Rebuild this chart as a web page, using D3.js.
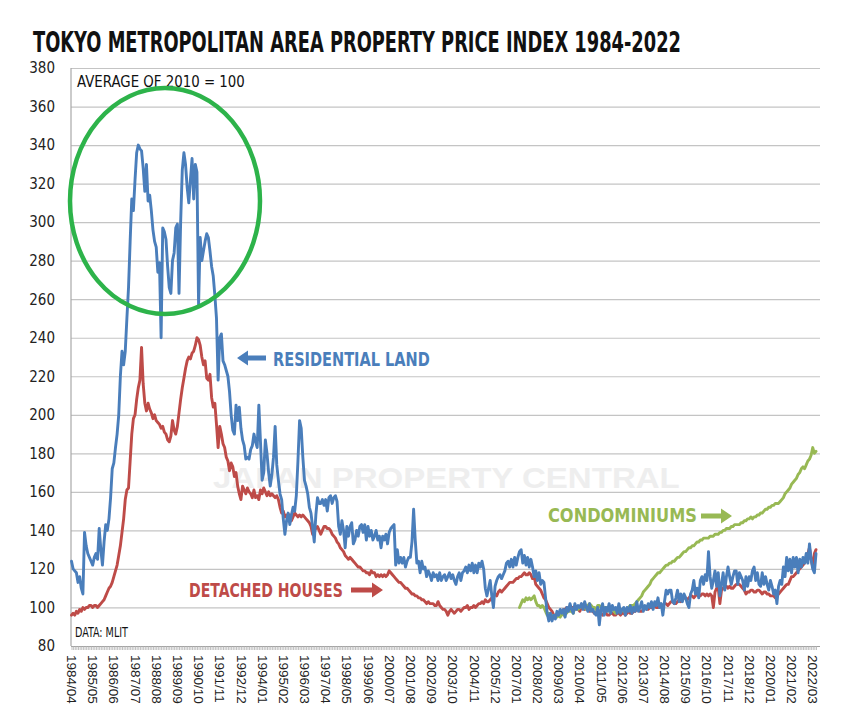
<!DOCTYPE html>
<html><head><meta charset="utf-8">
<script src="https://cdn.jsdelivr.net/npm/d3@7/dist/d3.min.js"></script>
<style>body{margin:0;background:#fff}svg{display:block}</style>
</head><body><svg id="chart" width="850" height="724"></svg>
<script>
// ---- data ----
const startYear = 1984, startMonth = 4; // first monthly observation: 1984/04
const tickLabels = ["1984/04","1985/05","1986/06","1987/07","1988/08","1989/09","1990/10","1991/11","1992/12","1994/01","1995/02","1996/03","1997/04","1998/05","1999/06","2000/07","2001/08","2002/09","2003/10","2004/11","2005/12","2007/01","2008/02","2009/03","2010/04","2011/05","2012/06","2013/07","2014/08","2015/09","2016/10","2017/11","2018/12","2020/01","2021/02","2022/03"];
const yTicks = [80,100,120,140,160,180,200,220,240,260,280,300,320,340,360,380];

// Residential land (monthly, Apr..Mar rows)
const residential = [
124,120,119,118,113,116,110,107,139,132,128,126,
124,122,126,128,125,141,130,122,134,143,140,146,
157,172,175,183,190,200,220,233,226,233,250,266,
290,312,306,322,336,340,338,337,328,316,330,311,
314,306,296,290,287,274,279,240,297,295,291,277,
266,263,280,284,297,299,263,300,327,336,330,318,
310,322,333,312,330,326,257,292,280,285,290,294,
292,285,277,272,262,250,218,240,242,228,226,223,
220,212,200,192,190,205,197,204,193,187,184,177,
178,177,182,184,190,186,183,205,186,166,170,187,
180,170,163,169,178,194,174,166,159,156,146,138,
145,149,143,148,152,150,158,176,197,193,178,166,
163,159,152,149,142,134,148,157,154,154,156,153,
156,150,157,158,154,157,158,155,142,138,145,140,
131,142,137,142,144,133,135,140,137,142,143,139,
143,135,142,137,140,135,137,140,135,137,131,137,
135,138,133,139,141,142,143,122,130,123,126,123,
126,121,124,126,126,134,151,135,123,124,118,124,
120,121,116,119,117,114,118,116,117,114,118,114,
116,117,114,116,118,115,117,114,112,116,118,114,
118,119,121,118,122,119,123,118,122,118,123,121,
124,120,110,106,110,114,106,100,111,114,116,117,
115,117,119,123,124,121,125,121,126,122,126,129,
130,123,127,122,126,121,125,121,116,119,114,118,
112,114,113,105,97,93,97,93,96,94,98,96,
99,97,99,95,100,98,102,99,97,102,99,101,
100,102,99,103,100,98,102,98,99,97,96,100,
91,99,102,96,100,98,102,97,101,99,100,97,
102,97,99,100,96,100,98,101,97,100,98,103,
98,100,103,98,101,99,102,100,103,99,103,101,
105,100,102,96,103,109,107,109,109,103,102,105,
109,103,107,103,107,105,102,100,107,109,114,107,
110,105,114,116,112,117,114,129,116,110,114,119,
111,118,106,112,118,109,116,121,116,112,116,119,
119,112,118,116,114,109,116,111,116,114,119,121,
114,118,112,111,118,112,116,112,109,114,111,107,
109,102,111,114,112,121,116,126,119,125,118,126,
121,126,118,125,121,126,123,128,123,133,125,120,
118,128];

// Detached houses (monthly)
const detached = [
96,97,96,98,97,99,98,100,99,100,100,101,
101,100,101,101,100,101,102,103,104,106,108,110,
111,113,116,119,122,127,132,139,146,156,161,162,
176,190,198,200,208,214,218,235,216,206,202,206,
203,201,198,200,197,196,195,193,194,191,190,187,
186,189,197,192,190,194,201,208,214,219,224,228,
230,229,232,233,236,240,239,236,230,226,228,219,
218,221,209,204,206,195,183,194,190,185,183,178,
176,171,175,173,168,170,163,159,156,163,161,159,
162,160,159,157,161,157,158,156,161,159,162,160,
158,160,158,159,158,157,158,156,152,149,150,147,
148,145,148,145,147,149,148,147,148,147,148,147,
146,145,144,142,138,140,141,142,140,138,140,142,
142,141,141,140,138,137,136,134,133,131,130,129,
127,126,125,126,125,124,123,122,121,121,120,119,
119,118,118,117,119,118,118,116,117,116,117,116,
117,116,117,119,118,117,116,115,114,113,113,112,
111,110,110,109,108,107,107,106,106,105,105,104,
104,103,102,103,102,102,102,101,101,103,101,100,
99,99,98,96,98,99,98,97,98,99,99,98,
99,100,100,101,99,100,100,101,100,101,102,102,
103,102,104,103,103,104,105,106,107,106,108,109,
108,109,110,111,112,113,113,113,114,115,115,116,
116,117,118,117,117,118,117,115,116,112,111,110,
109,107,105,104,102,100,99,98,96,95,96,97,
98,98,99,99,100,99,99,100,100,99,100,99,
98,100,100,99,100,99,98,99,98,97,97,99,
97,97,96,97,97,96,96,97,97,96,96,97,
97,96,97,97,96,97,98,97,97,98,98,99,
99,98,98,99,100,99,99,100,100,101,101,100,
100,101,101,101,102,102,101,102,103,103,102,102,
103,104,103,104,105,105,104,105,106,106,105,106,
107,106,106,107,107,106,107,106,107,106,100,108,
110,110,102,109,110,111,111,110,111,110,110,111,
112,112,112,111,110,109,107,108,108,109,109,108,
108,109,109,108,107,108,108,107,107,106,106,106,
105,106,107,108,109,110,111,112,112,114,116,116,
117,118,119,120,121,122,123,125,128,131,125,121,
128,130];

// Condominiums (monthly, from 2007/03)
const condoStart = "2007/03";
const condo = [
100,
102,104,103,105,104,105,104,105,106,103,101,101,
100,101,100,98,96,97,96,96,95,96,95,96,
95,97,96,98,97,99,98,98,97,100,100,99,
100,101,100,100,99,101,102,101,100,100,99,101,
101,100,99,100,100,99,98,99,99,98,97,98,
98,99,99,98,98,99,100,101,101,101,102,103,
104,105,106,108,109,110,111,112,114,115,116,117,
118,118,119,120,121,122,122,123,123,124,124,125,
126,126,127,128,129,129,130,131,131,132,132,133,
134,134,135,135,136,136,136,136,137,137,137,138,
138,138,139,139,140,140,141,141,141,142,142,143,
143,143,143,144,144,145,145,146,146,147,146,147,
147,148,148,149,149,150,151,151,152,152,153,153,
154,154,154,155,156,157,159,160,161,162,164,165,
166,167,169,170,172,173,172,174,176,177,179,183,
180,181];

// ---- chart ----
const months = residential.map((_, i) => {
  const t = startMonth - 1 + i;
  return (startYear + Math.floor(t / 12)) + "/" + String(t % 12 + 1).padStart(2, "0");
});

const svg = d3.select("#chart");
const L = 71, R = 820, T = 68, B = 646;
const x = d3.scalePoint().domain(months).range([71.5, 816]);
const y = d3.scaleLinear().domain([80, 380]).range([B, T]);

const narrow = "'Liberation Sans Narrow','DejaVu Sans Condensed','Arial Narrow',sans-serif";

svg.append("rect").attr("width", 850).attr("height", 724).attr("fill", "#fff");

// text fitted to a target width by horizontal scaling
function fitText(txt, x0, yb, width, size, weight, color, family) {
  const t = svg.append("text").attr("x", 0).attr("y", 0)
    .style("font-family", family || narrow).style("font-weight", weight)
    .style("font-size", size + "px").attr("fill", color).text(txt);
  const w = t.node().getComputedTextLength();
  t.attr("transform", `translate(${x0},${yb}) scale(${width / w},1)`);
  return t;
}

// title
fitText("TOKYO METROPOLITAN AREA PROPERTY PRICE INDEX 1984-2022", 33, 52, 648, 29, "bold", "#111");

// watermark
fitText("JAPAN PROPERTY CENTRAL", 213, 488, 467, 30, "bold", "#eeeeee", "'Liberation Sans','DejaVu Sans',sans-serif");

// y axis with gridlines
const yAxis = svg.append("g").attr("transform", `translate(${L},0)`)
  .call(d3.axisLeft(y).tickValues(yTicks).tickSize(-(R - L)).tickPadding(16).tickFormat(d3.format("d")));
yAxis.select(".domain").remove();
yAxis.selectAll(".tick line").attr("stroke", "#c4c4c4").attr("stroke-width", 1.2)
  .filter(d => d === 80).remove();
yAxis.selectAll(".tick text").style("font-family", narrow).style("font-size", "15px").attr("fill", "#222");

// left axis line
svg.append("line").attr("x1", L).attr("x2", L).attr("y1", T).attr("y2", B)
  .attr("stroke", "#a8a8a8").attr("stroke-width", 1.2);

// bottom axis: monthly tick marks
const xTickAxis = svg.append("g").attr("transform", `translate(0,${B})`)
  .call(d3.axisBottom(x).tickValues(months).tickSize(4).tickFormat(""));
xTickAxis.select(".domain").attr("stroke", "#a0a0a0").attr("d", `M${L},0.5H${R}`);
xTickAxis.selectAll(".tick line").attr("stroke", "#b0b0b0").attr("stroke-width", 0.8);

// bottom axis labels
const xLab = svg.append("g").attr("transform", `translate(0,${B})`)
  .call(d3.axisBottom(x).tickValues(tickLabels).tickSize(0));
xLab.select(".domain").remove();
xLab.selectAll(".tick text")
  .attr("transform", "rotate(90)").attr("x", 9).attr("y", 0).attr("dy", "0.36em")
  .style("text-anchor", "start").style("font-family", "'Liberation Sans',Arial,sans-serif")
  .style("font-size", "13.5px").attr("fill", "#222");

// texts inside plot
fitText("AVERAGE OF 2010 = 100", 77, 87, 168, 16, "normal", "#111");
fitText("DATA: MLIT", 75, 637, 53, 13.5, "normal", "#111");

// lines
const line = (offset) => d3.line().x((d, i) => x(months[i + offset])).y(d => y(d)).curve(d3.curveLinear);
const drawSeries = (data, offset, color) => svg.append("path").datum(data)
  .attr("fill", "none").attr("stroke", color).attr("stroke-width", 2.9)
  .attr("stroke-linejoin", "round").attr("stroke-linecap", "round").attr("d", line(offset));

drawSeries(detached, 0, "#be4b48");
drawSeries(condo, months.indexOf(condoStart), "#98b954");
drawSeries(residential, 0, "#4a7ebb");

// highlight ellipse
svg.append("ellipse").attr("cx", 165).attr("cy", 201).attr("rx", 95).attr("ry", 113)
  .attr("fill", "none").attr("stroke", "#2db34a").attr("stroke-width", 4.5);

// annotations
function arrow(xTail, xTip, yc, color) {
  const dir = Math.sign(xTip - xTail), head = 11, hh = 7.5, sh = 2.6;
  const xb = xTip - dir * head;
  const p = [[xTail, yc - sh], [xb, yc - sh], [xb, yc - hh], [xTip, yc], [xb, yc + hh], [xb, yc + sh], [xTail, yc + sh]];
  svg.append("path").attr("d", "M" + p.map(q => q.join(",")).join("L") + "Z").attr("fill", color);
}
fitText("RESIDENTIAL LAND", 273, 366, 157, 20, "bold", "#4a7ebb");
arrow(266, 237, 358, "#4a7ebb");
fitText("DETACHED HOUSES", 189, 597, 154, 20, "bold", "#be4b48");
arrow(351, 383, 590, "#be4b48");
fitText("CONDOMINIUMS", 548, 522, 149, 20, "bold", "#98b954");
arrow(701, 732, 516, "#98b954");
</script></body></html>
